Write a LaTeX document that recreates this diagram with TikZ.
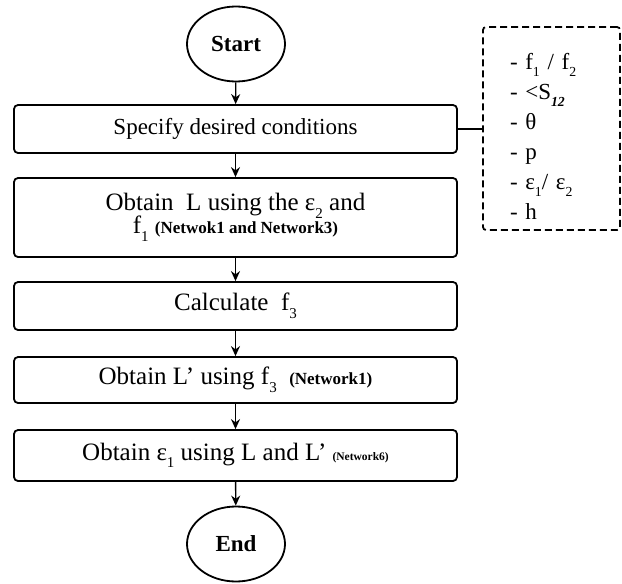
\documentclass[tikz,border=0pt]{standalone}
\usepackage{graphicx}
\usepackage{fontspec}
\setmainfont{Liberation Serif}
\usetikzlibrary{arrows.meta,shapes.geometric}
\newcommand{\sbs}[1]{\raisebox{-0.3em}{\scalebox{0.6}{#1}}}
\newcommand{\netw}[1]{\bfseries\fontsize{#1}{#1}\selectfont}
\begin{document}
\begin{tikzpicture}[x=1pt,y=-1pt,
  proc/.style={draw, line width=1.8pt, rounded corners=4pt, minimum width=443pt,
    inner sep=0pt, align=center, font=\fontsize{25}{26}\selectfont},
  term/.style={ellipse, draw, line width=1.8pt, minimum width=98pt, minimum height=75pt,
    inner sep=0pt, font=\fontsize{23}{25}\selectfont\bfseries},
  flow/.style={-{Stealth[length=10pt,width=9pt]}, line width=1.4pt},
  params/.style={draw, line width=1.8pt, dash pattern=on 7pt off 4pt, rounded corners=3pt,
    minimum height=203pt, text width=83pt, inner xsep=27pt, inner ysep=0pt, align=left,
    font=\fontsize{23}{30}\selectfont}]
\useasboundingbox (0,0) rectangle (622,584);
\node[term] (start) at (236,44) {Start};
\node[proc, minimum height=48pt, font=\fontsize{23}{24}\selectfont] (b1) at (235.5,129) {Specify desired conditions};
\node[proc, minimum height=79pt] (b2) at (235.5,217.5) {Obtain\ \ L using the ε\sbs{2} and\\[-3pt] f\sbs{1} {\netw{17}(Netwok1 and Network3)}};
\node[proc, minimum height=48pt] (b3) at (235.5,306) {Calculate\ \ f\sbs{3}};
\node[proc, minimum height=46pt] (b4) at (235.5,380) {Obtain L’ using f\sbs{3}\ \ {\netw{17}(Network1)}};
\node[proc, minimum height=51pt] (b5) at (235.5,455.5) {Obtain ε\sbs{1} using L and L’ {\netw{11.5}(Network6)}};
\node[term] (end) at (236,544) {End};
\node[params] (par) at (551.5,128.5) {\rule{0pt}{32pt}- f\sbs{1} / f\sbs{2}\\ - <S\sbs{\textbf{\textit{12}}}\\ - θ\\ - p\\ - ε\sbs{1}/ ε\sbs{2}\\ - h};
\draw[flow] (start) -- (b1);
\draw[flow] (b1) -- (b2);
\draw[flow] (b2) -- (b3);
\draw[flow] (b3) -- (b4);
\draw[flow] (b4) -- (b5);
\draw[flow] (b5) -- (end);
\draw[line width=1.4pt] (b1.east) -- (b1.east -| par.west);
\end{tikzpicture}
\end{document}
